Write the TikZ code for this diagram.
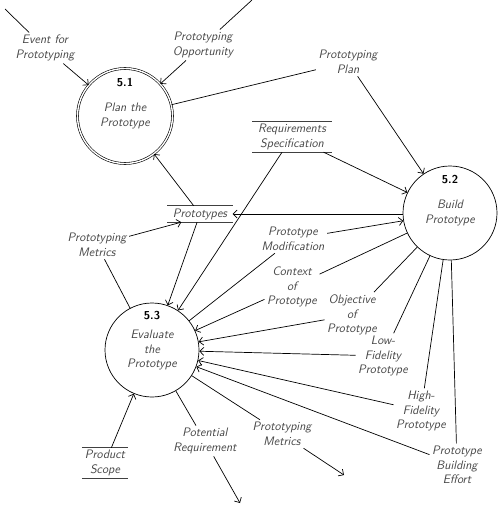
\documentclass[tikz,border=0pt]{standalone}
\usepackage{fontspec}
\usetikzlibrary{arrows.meta}
\begin{document}
\begin{tikzpicture}[x=1pt,y=-1pt,
  lbl/.style={font=\fontsize{12.3}{14.5}\selectfont\sffamily\itshape, text=black!72, align=center, inner sep=2.5pt},
  proc/.style={lbl, circle, draw=black, line width=0.7pt, minimum size=94pt, inner sep=0pt},
  num/.style={font=\fontsize{11.5}{13}\selectfont\sffamily\bfseries, inner sep=1pt},
  store/.style={lbl, inner sep=0pt},
  storeline/.style={line width=1.1pt, draw=black!75},
  flow/.style={line width=0.7pt, -{Straight Barb[length=4pt,width=8pt]}},
  plain/.style={line width=0.7pt}
]
\useasboundingbox (0,0) rectangle (500,506);

% processes
\node[proc, double, double distance=1.4pt, line width=0.6pt, minimum size=95pt] (p51) at (125,116) {Plan the\\Prototype};
\node[num] (n51) at (125,83) {5.1};
\node[proc] (p52) at (450,213) {Build\\Prototype};
\node[num] (n52) at (450,180) {5.2};
\node[proc] (p53) at (152,350) {Evaluate\\the\\Prototype};
\node[num] (n53) at (152,316) {5.3};

% stores
\node[store, minimum width=79pt, minimum height=30pt] (rs) at (292,137) {Requirements\\Specification};
\draw[storeline] (rs.north west) -- (rs.north east) (rs.south west) -- (rs.south east);
\node[store, minimum width=65pt, minimum height=16pt] (pt) at (200,214) {Prototypes};
\draw[storeline] (pt.north west) -- (pt.north east) (pt.south west) -- (pt.south east);
\node[store, minimum width=46pt, minimum height=30pt] (ps) at (105,463) {Product\\Scope};
\draw[storeline] (ps.north west) -- (ps.north east) (ps.south west) -- (ps.south east);

% flow labels
\node[lbl] (evt) at (45,48) {Event for\\Prototyping};
\node[lbl] (opp) at (203,45) {Prototyping\\Opportunity};
\node[lbl] (plan) at (348,62) {Prototyping\\Plan};
\node[lbl] (metl) at (97,245) {Prototyping\\Metrics};
\node[lbl] (mod) at (293,239) {Prototype\\Modification};
\node[lbl] (ctx) at (292,287) {Context\\of\\Prototype};
\node[lbl] (obj) at (352,315) {Objective\\of\\Prototype};
\node[lbl] (low) at (383,356) {Low-\\Fidelity\\Prototype};
\node[lbl] (high) at (421,411) {High-\\Fidelity\\Prototype};
\node[lbl] (eff) at (457,465) {Prototype\\Building\\Effort};
\node[lbl] (metb) at (282,434) {Prototyping\\Metrics};
\node[lbl] (pot) at (205,441) {Potential\\Requirement};

% free ends
\coordinate (evtsrc) at (5,9);
\coordinate (oppsrc) at (252,0);
\coordinate (metbdst) at (344,475);
\coordinate (potdst) at (240,503);

% connectors
\draw[plain] (evtsrc) -- (evt);
\draw[flow] (evt) -- (p51);
\draw[plain] (oppsrc) -- (opp);
\draw[flow] (opp) -- (p51);
\draw[plain] (p51) -- (plan);
\draw[flow] (plan) -- (p52);
\draw[flow] (rs) -- (p53);
\draw[flow] (rs) -- (p52);
\draw[flow] (pt) -- (p51);
\draw[flow] (p52.west |- pt.east) -- (pt.east);
\draw[flow] (pt) -- (p53);
\draw[plain] (p53) -- (metl);
\draw[flow] (metl) -- ([xshift=14pt]pt.south west);
\draw[plain] (p53) -- (mod);
\draw[flow] (mod) -- (p52);
\draw[plain] (p52) -- (ctx);
\draw[flow] (ctx) -- (p53);
\draw[plain] (p52) -- (obj);
\draw[flow] (obj) -- (p53);
\draw[plain] (p52) -- (low);
\draw[flow] (low) -- (p53);
\draw[plain] (p52) -- (high);
\draw[flow] (high) -- (p53);
\draw[plain] (p52) -- (eff);
\draw[flow] (eff) -- (p53);
\draw[plain] (p53) -- (metb);
\draw[flow] (metb) -- (metbdst);
\draw[plain] (p53) -- (pot);
\draw[flow] (pot) -- (potdst);
\draw[flow] (ps) -- (p53);
\end{tikzpicture}
\end{document}
